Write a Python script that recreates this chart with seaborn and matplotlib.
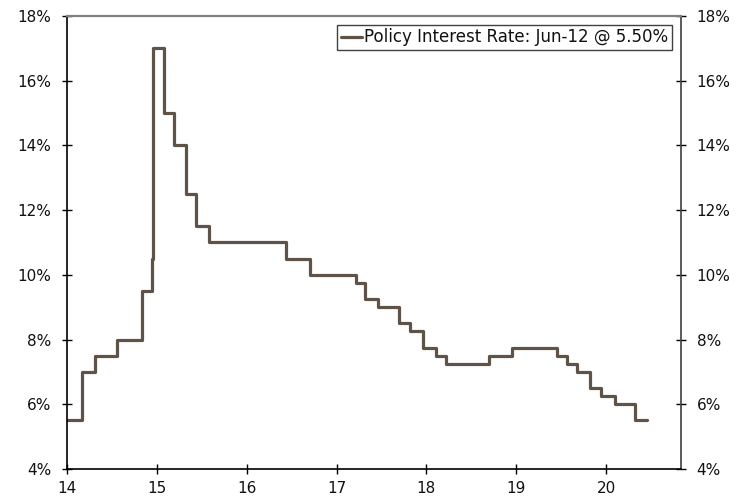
import matplotlib
matplotlib.use("Agg")
import matplotlib.pyplot as plt
import pandas as pd
import seaborn as sns
from matplotlib.ticker import FuncFormatter

# step dates (fractional year axis) and policy rate (%)
dates = [14.00, 14.163, 14.315, 14.56, 14.83, 14.95, 14.96, 15.08, 15.19, 15.32,
         15.44, 15.58, 16.44, 16.71, 17.22, 17.32, 17.46, 17.70, 17.82, 17.96,
         18.11, 18.22, 18.70, 18.95, 19.45, 19.57, 19.68, 19.82, 19.94, 20.10,
         20.32, 20.45]
rates = [5.5, 7.0, 7.5, 8.0, 9.5, 10.5, 17.0, 15.0, 14.0, 12.5,
         11.5, 11.0, 10.5, 10.0, 9.75, 9.25, 9.0, 8.5, 8.25, 7.75,
         7.5, 7.25, 7.5, 7.75, 7.5, 7.25, 7.0, 6.5, 6.25, 6.0,
         5.5, 5.5]
x_ticks = [14, 15, 16, 17, 18, 19, 20]
y_ticks = [4, 6, 8, 10, 12, 14, 16, 18]
label = "Policy Interest Rate: Jun-12 @ 5.50%"

sns.set_style("white")
plt.rcParams['font.family'] = ['DejaVu Sans']

df = pd.DataFrame({'date': dates, 'rate': rates})

fig = plt.figure(figsize=(7.51, 4.99), dpi=100)
ax = fig.add_axes([0.0892, 0.0601, 0.8172, 0.9079])

sns.lineplot(data=df, x='date', y='rate', ax=ax, color='#5e5346',
             linewidth=2.3, drawstyle='steps-post', label=label)

ax.set_xlim(14, 20.83)
ax.set_ylim(4, 18)
ax.set_xticks(x_ticks)
ax.set_yticks(y_ticks)
ax.yaxis.set_major_formatter(FuncFormatter(lambda v, p: f"{v:.0f}%"))
ax.set_xlabel('')
ax.set_ylabel('')

ax.tick_params(axis='both', direction='inout', length=7, width=1, color='black',
               labelsize=11, labelcolor='#111111')
ax.tick_params(axis='y', left=True, right=True, labelleft=True, labelright=True,
               pad=8)
ax.tick_params(axis='x', bottom=True, pad=5)

ax.spines['left'].set_color('black')
ax.spines['bottom'].set_color('black')
ax.spines['right'].set_color('#404040')
ax.spines['top'].set_color('#808080')
for s in ax.spines.values():
    s.set_linewidth(1.2)
    s.set_visible(True)
ax.spines['top'].set_linewidth(1.6)

leg = ax.legend(loc='upper right', fontsize=12, frameon=True, fancybox=False,
                handlelength=1.3, handletextpad=0.1, borderpad=0.2,
                borderaxespad=0.55)
leg.get_frame().set_edgecolor('#404040')
leg.get_frame().set_linewidth(1)
leg.get_frame().set_alpha(1)
for t in leg.get_texts():
    t.set_color('#111111')

fig.savefig('out.png', dpi=100)
